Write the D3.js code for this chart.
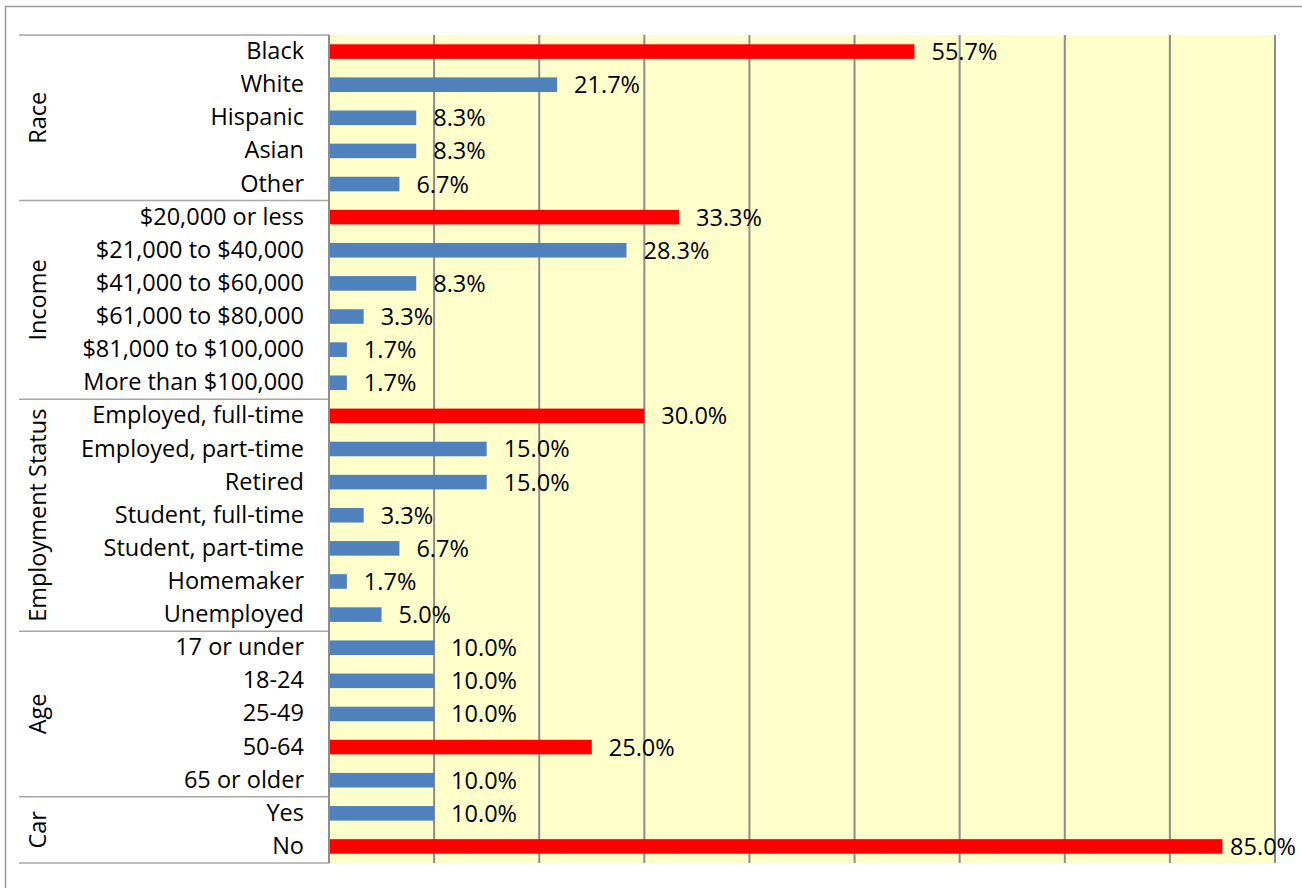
<!DOCTYPE html>
<html>
<head>
<meta charset="utf-8">
<script src="https://cdn.jsdelivr.net/npm/d3@7"></script>
<style>
  html, body { margin: 0; padding: 0; background: #ffffff; }
  svg { display: block; }
  text { font-family: "Open Sans", "Noto Sans", sans-serif; }
</style>
</head>
<body>
<svg id="chart" width="1302" height="888"></svg>
<script>
// Survey respondent profile, share of respondents (%)
const groups = ["Race", "Income", "Employment Status", "Age", "Car"];

const raceCategories = ["Black", "White", "Hispanic", "Asian", "Other"];
const raceValues = [55.7, 21.7, 8.3, 8.3, 6.7];

const incomeCategories = ["$20,000 or less", "$21,000 to $40,000", "$41,000 to $60,000",
  "$61,000 to $80,000", "$81,000 to $100,000", "More than $100,000"];
const incomeValues = [33.3, 28.3, 8.3, 3.3, 1.7, 1.7];

const employmentCategories = ["Employed, full-time", "Employed, part-time", "Retired",
  "Student, full-time", "Student, part-time", "Homemaker", "Unemployed"];
const employmentValues = [30.0, 15.0, 15.0, 3.3, 6.7, 1.7, 5.0];

const ageCategories = ["17 or under", "18-24", "25-49", "50-64", "65 or older"];
const ageValues = [10.0, 10.0, 10.0, 25.0, 10.0];

const carCategories = ["Yes", "No"];
const carValues = [10.0, 85.0];

const xTicks = [0, 10, 20, 30, 40, 50, 60, 70, 80, 90];

const FONT_SIZE = 23.5;
const LABEL_MAX_RIGHT = 1296;

// Flatten into rows, flagging the largest share within each group
const groupLists = [
  [raceCategories, raceValues],
  [incomeCategories, incomeValues],
  [employmentCategories, employmentValues],
  [ageCategories, ageValues],
  [carCategories, carValues]
];
const rows = [];
const groupSpans = [];
groupLists.forEach(([cats, vals], gi) => {
  const maxV = d3.max(vals);
  const start = rows.length;
  cats.forEach((c, i) => rows.push({ key: gi + "|" + c, label: c, value: vals[i], top: vals[i] === maxV }));
  groupSpans.push({ name: groups[gi], first: rows[start].key, last: rows[rows.length - 1].key });
});

const svg = d3.select("#chart");
const plot = { left: 329, right: 1275, top: 35, bottom: 863 };
const labelLeft = 19;

// Outer chart frame
svg.append("rect")
  .attr("x", 5.5).attr("y", 6.5)
  .attr("width", 1310).attr("height", 900)
  .attr("fill", "#ffffff").attr("stroke", "#9a9a9a").attr("stroke-width", 1.5);

const x = d3.scaleLinear().domain([0, 90]).range([plot.left, plot.right]);
const y = d3.scaleBand().domain(rows.map(r => r.key)).range([plot.top, plot.bottom]).paddingInner(0.56).paddingOuter(0.28);

// Plot area background
svg.append("rect")
  .attr("x", plot.left).attr("y", plot.top)
  .attr("width", plot.right - plot.left).attr("height", plot.bottom - plot.top)
  .attr("fill", "#ffffcc");

// Vertical gridlines
svg.append("g")
  .selectAll("line").data(xTicks).join("line")
  .attr("x1", d => x(d)).attr("x2", d => x(d))
  .attr("y1", plot.top).attr("y2", plot.bottom)
  .attr("stroke", "#8c8c8c").attr("stroke-width", 2);

// Bars
svg.append("g")
  .selectAll("rect").data(rows).join("rect")
  .attr("x", x(0) + 1)
  .attr("y", d => y(d.key))
  .attr("width", d => x(d.value) - x(0) - 1)
  .attr("height", y.bandwidth())
  .attr("fill", d => d.top ? "#ff0000" : "#4f81bd");

// Value labels, pulled back inside the frame when they would overflow
svg.append("g")
  .selectAll("text").data(rows).join("text")
  .attr("x", d => x(d.value) + 17)
  .attr("y", d => y(d.key) + y.bandwidth() / 2)
  .attr("dy", "0.36em")
  .attr("font-size", FONT_SIZE)
  .attr("fill", "#000000")
  .text(d => d.value.toFixed(1) + "%")
  .each(function (d) {
    const w = this.getComputedTextLength();
    const x0 = x(d.value) + 17;
    if (x0 + w > LABEL_MAX_RIGHT) d3.select(this).attr("x", LABEL_MAX_RIGHT - w);
  });

// Category axis: labels on the left of the plot
const yAxis = d3.axisLeft(y).tickSize(0).tickPadding(25).tickFormat(k => rows.find(r => r.key === k).label);
const ya = svg.append("g").attr("transform", `translate(${plot.left},0)`).call(yAxis);
ya.select(".domain").remove();
ya.selectAll("text")
  .attr("font-size", FONT_SIZE)
  .attr("font-family", "\"Open Sans\", \"Noto Sans\", sans-serif")
  .attr("fill", "#000000");

// Group separators and group names
const step = y.step();
const edges = groupSpans.map(g => {
  const t = y(g.first) - (step - y.bandwidth()) / 2;
  const b = y(g.last) + y.bandwidth() + (step - y.bandwidth()) / 2;
  return { name: g.name, t, b };
});
const sepYs = [edges[0].t].concat(edges.map(e => e.b));
svg.append("g")
  .selectAll("line").data(sepYs).join("line")
  .attr("x1", labelLeft).attr("x2", plot.left)
  .attr("y1", d => d).attr("y2", d => d)
  .attr("stroke", "#a6a6a6").attr("stroke-width", 1.5);

svg.append("g")
  .selectAll("text").data(edges).join("text")
  .attr("transform", d => `translate(38,${(d.t + d.b) / 2}) rotate(-90)`)
  .attr("text-anchor", "middle")
  .attr("dy", "0.36em")
  .attr("font-size", FONT_SIZE)
  .attr("fill", "#000000")
  .text(d => d.name);

// Left axis line of the plot area
svg.append("line")
  .attr("x1", plot.left).attr("x2", plot.left)
  .attr("y1", plot.top).attr("y2", plot.bottom)
  .attr("stroke", "#8c8c8c").attr("stroke-width", 2);
</script>
</body>
</html>
